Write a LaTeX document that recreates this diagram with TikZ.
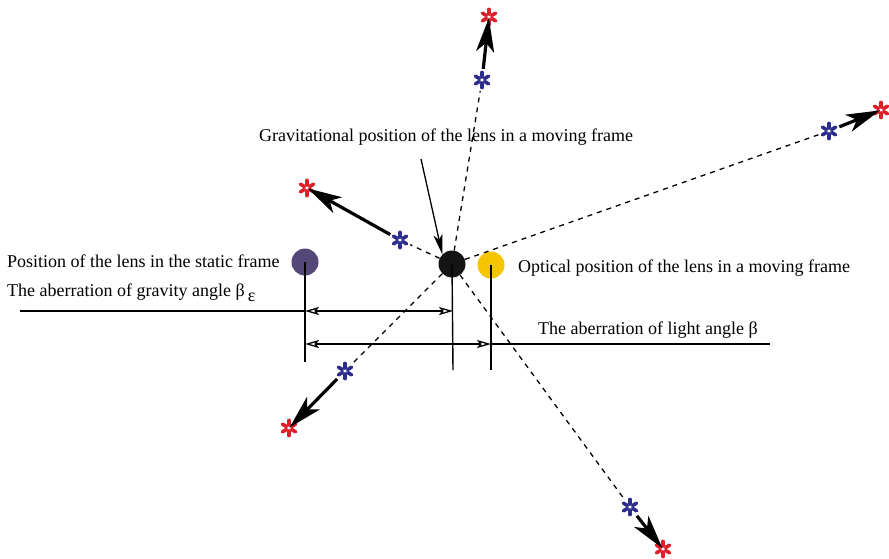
\documentclass[tikz,border=0pt]{standalone}
\usepackage{fontspec}
\setmainfont{Liberation Serif}
\usetikzlibrary{arrows.meta}
\definecolor{lenspurple}{RGB}{84,72,120}
\definecolor{lensyellow}{RGB}{246,196,0}
\definecolor{starblue}{RGB}{44,44,140}
\definecolor{starred}{RGB}{222,30,40}
\tikzset{
  lens/.style={circle, fill=#1, inner sep=0pt, minimum size=27pt},
  star/.style={circle, inner sep=0pt, minimum size=22pt,
    path picture={\foreach \a in {30,90,...,330}
      \draw[shift={(path picture bounding box.center)}, #1, line width=3.6pt, line cap=round] (\a:3pt) -- (\a:7.6pt);}},
  ray/.style={line width=1.3pt, dash pattern=on 5pt off 5pt},
  bigarrow/.style={line width=3.2pt, -{Stealth[length=34pt,width=18pt,inset=9pt]}, shorten >=1pt},
  dim/.style={line width=1.3pt, {Stealth[open,length=14pt,width=8pt,inset=3pt]}-{Stealth[open,length=14pt,width=8pt,inset=3pt]}},
  plain/.style={line width=1.4pt},
  lbl/.style={font=\fontsize{18}{21}\selectfont, inner sep=0pt}
}
\begin{document}
\begin{tikzpicture}[x=1pt,y=-1pt]
\useasboundingbox (0,0) rectangle (889,558);
% lenses
\node[lens=lenspurple] (P) at (305,262) {};
\node[lens=lensyellow] (Y) at (491,265) {};
\node[lens=black!92] (L) at (452,264) {};
% stars
\node[star=starblue] (b1) at (482,80) {};
\node[star=starred] (r1) at (489,17) {};
\node[star=starblue] (b2) at (829,131) {};
\node[star=starred] (r2) at (881,110) {};
\node[star=starblue] (b3) at (400,240) {};
\node[star=starred] (r3) at (307,188) {};
\node[star=starblue] (b4) at (345,371) {};
\node[star=starred] (r4) at (289,428) {};
\node[star=starblue] (b5) at (630,507) {};
\node[star=starred] (r5) at (663,549) {};
% rays
\foreach \i in {1,...,5} \draw[ray] (L) -- (b\i);
\foreach \i in {1,...,5} \draw[bigarrow] (b\i) -- (r\i.center);
% vertical lines
\coordinate (Pd) at (305,362);
\coordinate (Ld) at (453,370);
\coordinate (Yd) at (491,370);
\draw[plain] (P.center) -- (Pd);
\draw[plain] (L.center) -- (Ld);
\draw[plain] (Y.center) -- (Yd);
% dimension lines
\coordinate (gl) at (20,311);
\coordinate (ga) at (305,311);
\coordinate (gb) at (453,311);
\coordinate (la) at (305,344);
\coordinate (lb) at (491,344);
\coordinate (lr) at (770,344);
\draw[plain] (gl) -- (ga);
\draw[dim] (ga) -- (gb);
\draw[dim] (la) -- (lb);
\draw[plain] (lb) -- (lr);
% labels
\node[lbl, anchor=west] (tP) at (7,261) {Position of the lens in the static frame};
\node[lbl, anchor=west] (tG) at (7,293) {The aberration of gravity angle β\,\raisebox{-5pt}{ε}};
\node[lbl, anchor=west] (tL) at (538,330) {The aberration of light angle β};
\node[lbl, anchor=west] (tO) at (518,268) {Optical position of the lens in a moving frame};
\node[lbl, anchor=center] (tGr) at (446,137) {Gravitational position of the lens in a moving frame};
\coordinate (gs) at (421,159);
\draw[line width=1.3pt, -{Stealth[length=20pt,width=9pt,inset=5pt]}] (gs) -- (L.north west);
\end{tikzpicture}
\end{document}
